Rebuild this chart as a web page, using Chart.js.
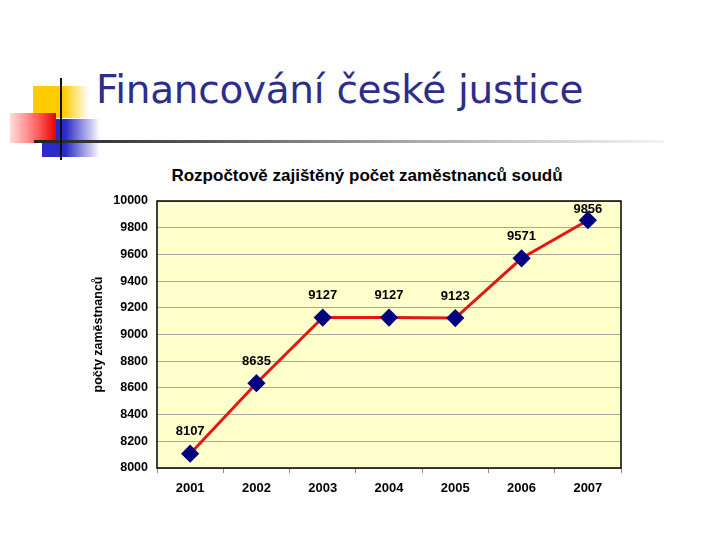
<!DOCTYPE html>
<html>
<head>
<meta charset="utf-8">
<script src="https://cdn.jsdelivr.net/npm/chart.js@4.4.0/dist/chart.umd.min.js"></script>
<style>
  html, body { margin: 0; padding: 0; background: #fff; }
  body { width: 720px; height: 540px; position: relative; overflow: hidden; }
  .sq-yellow { position: absolute; left: 33px; top: 86px; width: 56px; height: 32px;
    background: linear-gradient(to right, #ffcc00 0%, #ffcc00 55%, rgba(255,204,0,0) 100%); }
  .sq-red { position: absolute; left: 10px; top: 113px; width: 46px; height: 30px;
    background: linear-gradient(to right, rgba(255,120,120,0.25) 0%, #ff6060 60%, #e80000 100%); }
  .sq-blue { position: absolute; left: 42px; top: 119px; width: 58px; height: 38px;
    background: linear-gradient(to right, #2a2ac8 0%, #2a2ac8 40%, rgba(42,42,200,0) 100%); }
  .vline { position: absolute; left: 60px; top: 78px; width: 2px; height: 82px; background: #111; }
  .hline { position: absolute; left: 34px; top: 140px; width: 630px; height: 3px;
    background: linear-gradient(to right, #222 0%, #555 25%, #aaa 60%, rgba(220,220,220,0.3) 100%); }
  .title { position: absolute; left: 96px; top: 67px; font-family: "DejaVu Sans", sans-serif;
    font-size: 39px; color: #2e2e8a; white-space: nowrap; letter-spacing: -0.3px; }
  .ctitle { position: absolute; left: 167px; width: 400px; top: 166px; text-align: center;
    font: bold 17px "Liberation Sans", Arial, sans-serif; color: #000; white-space: nowrap; }
  #wrap { position: absolute; left: 80px; top: 160px; width: 570px; height: 340px; }
</style>
</head>
<body>
<div class="sq-yellow"></div>
<div class="sq-blue"></div>
<div class="sq-red"></div>
<div class="hline"></div>
<div class="vline"></div>
<div class="title">Financování české justice</div>
<div class="ctitle">Rozpočtově zajištěný počet zaměstnanců soudů</div>
<div id="wrap"><canvas id="myChart"></canvas></div>
<script>
const years = ["2001", "2002", "2003", "2004", "2005", "2006", "2007"];
const employees = [8107, 8635, 9127, 9127, 9123, 9571, 9856];
const yMin = 8000;
const yMax = 10000;
const yStep = 200;

const FONT = "'Liberation Sans', Arial, sans-serif";

// yellow plot background and black frame
const plotBg = {
  id: "plotBg",
  beforeDraw(chart) {
    const { ctx, chartArea: a } = chart;
    ctx.save();
    ctx.fillStyle = "#ffffcc";
    ctx.fillRect(a.left, a.top, a.right - a.left, a.bottom - a.top);
    ctx.restore();
  },
  afterDraw(chart) {
    const { ctx, chartArea: a } = chart;
    ctx.save();
    ctx.strokeStyle = "#000";
    ctx.lineWidth = 1.5;
    ctx.strokeRect(a.left, a.top, a.right - a.left, a.bottom - a.top);
    ctx.restore();
  },
};

// value labels above points, kept inside the plot
const pointLabels = {
  id: "pointLabels",
  afterDatasetsDraw(chart) {
    const ctx = chart.ctx;
    const top = chart.chartArea.top;
    const meta = chart.getDatasetMeta(0);
    ctx.save();
    ctx.font = "bold 13px " + FONT;
    ctx.fillStyle = "#000";
    ctx.textAlign = "center";
    ctx.textBaseline = "middle";
    meta.data.forEach((pt, i) => {
      const y = Math.max(pt.y - 22, top + 8);
      ctx.fillText(employees[i], pt.x, y);
    });
    ctx.restore();
  },
};

const ctx = document.getElementById("myChart").getContext("2d");
const myChart = new Chart(ctx, {
  type: "line",
  data: {
    labels: years,
    datasets: [
      {
        label: "počty zaměstnanců",
        data: employees,
        borderColor: "#e01a12",
        borderWidth: 3,
        pointStyle: "rectRot",
        pointRadius: 7,
        pointBackgroundColor: "#000080",
        pointBorderColor: "#000080",
        tension: 0,
      },
    ],
  },
  options: {
    responsive: true,
    maintainAspectRatio: false,
    animation: false,
    layout: { padding: { top: 41, right: 29, bottom: 0, left: 11 } },
    plugins: {
      legend: { display: false },
      tooltip: { enabled: false },
      title: { display: false },
    },
    scales: {
      x: {
        offset: true,
        grid: { display: true, drawOnChartArea: false, offset: true, color: "#888", tickLength: 5 },
        border: { display: false },
        ticks: {
          color: "#000",
          padding: 8,
          font: { family: FONT, size: 13, weight: "bold" },
        },
        afterFit(scale) { scale.height = 32; },
      },
      y: {
        min: yMin,
        max: yMax,
        ticks: {
          stepSize: yStep,
          color: "#000",
          padding: 9,
          callback: (v) => String(v),
          font: { family: FONT, size: 12.5, weight: "bold" },
        },
        grid: { color: "#a8a898", lineWidth: 1, drawTicks: false },
        border: { display: false },
        title: {
          display: true,
          text: "počty zaměstnanců",
          color: "#000",
          padding: { top: 0, bottom: 4 },
          font: { family: FONT, size: 12.5, weight: "bold" },
        },
        afterFit(scale) { scale.width = 66; },
      },
    },
  },
  plugins: [plotBg, pointLabels],
});
</script>
</body>
</html>
